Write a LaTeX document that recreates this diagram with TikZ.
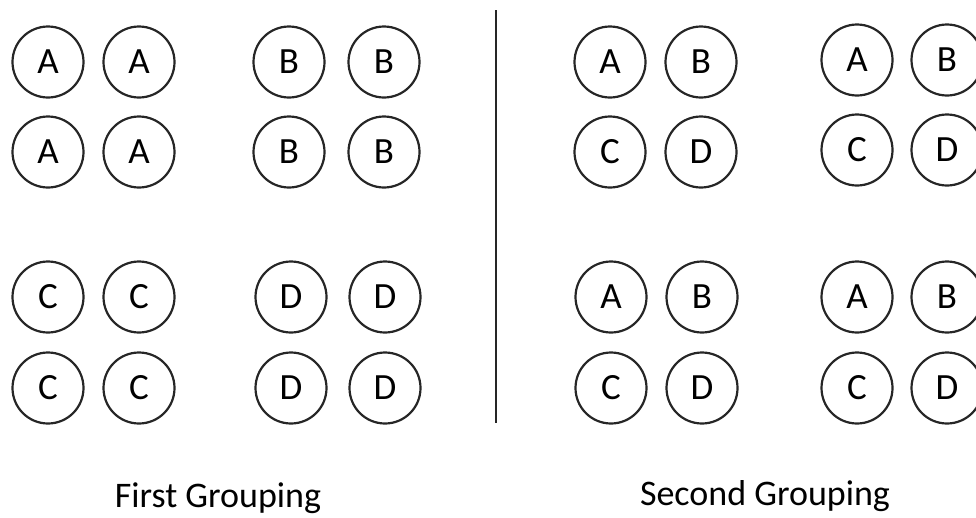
\documentclass[tikz,border=0pt]{standalone}
\usepackage{fontspec}
\setmainfont{Carlito}
\begin{document}
\begin{tikzpicture}[x=1pt,y=-1pt,
  ball/.style={draw=black!85,circle,line width=2.2pt,minimum size=71pt,inner sep=0pt,
    font=\fontsize{37}{37}\selectfont},
  caption/.style={font=\fontsize{36}{36}\selectfont,anchor=base}]
\useasboundingbox (0,0) rectangle (976,517);
% First grouping
\node[ball] (a1) at (48,62) {A};
\node[ball] (a2) at (139,62) {A};
\node[ball] (a3) at (48,152) {A};
\node[ball] (a4) at (139,152) {A};
\node[ball] (b1) at (289,62) {B};
\node[ball] (b2) at (384,62) {B};
\node[ball] (b3) at (289,152) {B};
\node[ball] (b4) at (384,152) {B};
\node[ball] (c1) at (48,297) {C};
\node[ball] (c2) at (139,297) {C};
\node[ball] (c3) at (48,388) {C};
\node[ball] (c4) at (139,388) {C};
\node[ball] (d1) at (291,297) {D};
\node[ball] (d2) at (385,297) {D};
\node[ball] (d3) at (291,388) {D};
\node[ball] (d4) at (385,388) {D};
% divider
\coordinate (lt) at (496,10);
\coordinate (lb) at (496,423);
\draw[line width=2.6pt,black!85] (lt) -- (lb);
% Second grouping
\node[ball] (p1) at (610,62) {A};
\node[ball] (p2) at (701,62) {B};
\node[ball] (p3) at (610,152) {C};
\node[ball] (p4) at (701,152) {D};
\node[ball] (q1) at (857,60) {A};
\node[ball] (q2) at (947,60) {B};
\node[ball] (q3) at (857,150) {C};
\node[ball] (q4) at (947,150) {D};
\node[ball] (r1) at (611,297) {A};
\node[ball] (r2) at (702,297) {B};
\node[ball] (r3) at (611,388) {C};
\node[ball] (r4) at (702,388) {D};
\node[ball] (s1) at (857,297) {A};
\node[ball] (s2) at (947,297) {B};
\node[ball] (s3) at (857,388) {C};
\node[ball] (s4) at (947,388) {D};
% captions
\node[caption] (cap1) at (218,507) {First Grouping};
\node[caption] (cap2) at (765,505) {Second Grouping};
\end{tikzpicture}
\end{document}
